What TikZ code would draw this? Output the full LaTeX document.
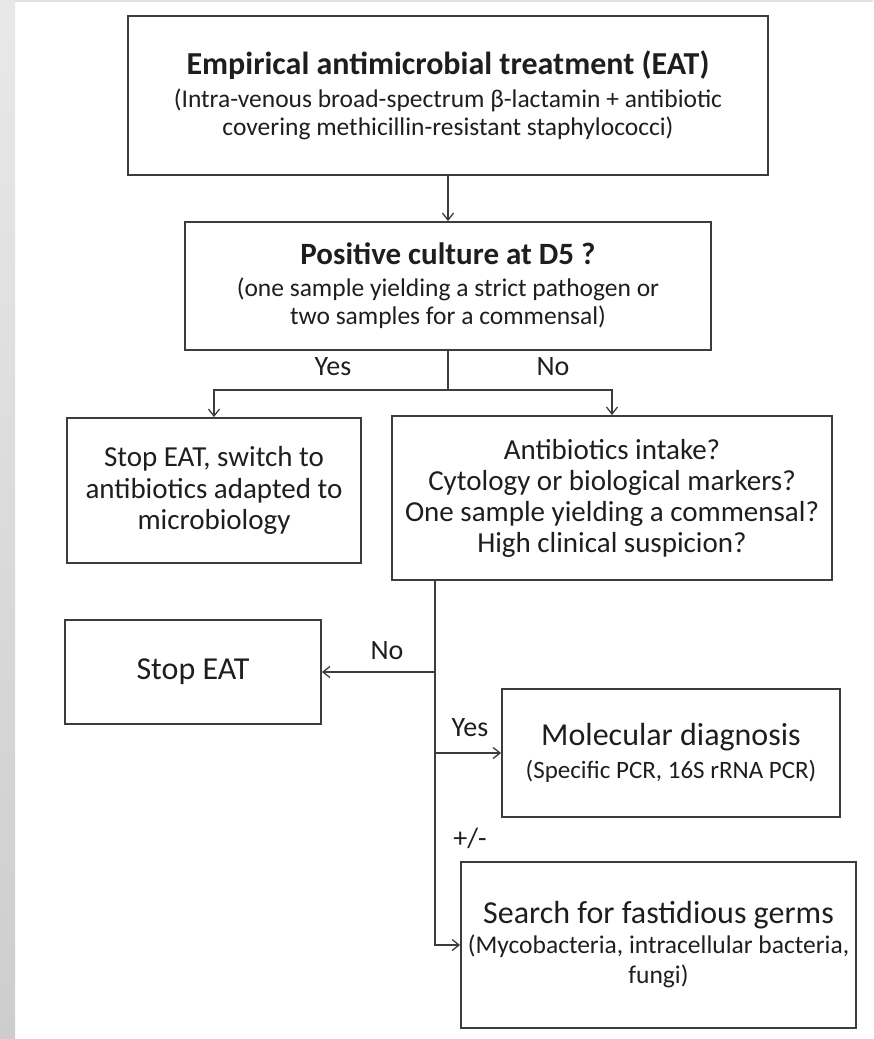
\documentclass[tikz,border=0pt]{standalone}
\usepackage{fontspec}
\setmainfont{Carlito}
\usepackage{tikz}
\usetikzlibrary{arrows.meta,positioning,calc}
\definecolor{boxline}{RGB}{60,60,60}
\definecolor{txtgray}{RGB}{30,30,30}
\definecolor{stripgray}{RGB}{205,205,205}
\newcommand{\fsize}[2]{\fontsize{#1}{#2}\selectfont}

\begin{document}
\begin{tikzpicture}[x=1pt,y=-1pt,
    box/.style={draw=boxline,line width=1.8pt,align=center,inner sep=0pt,text=txtgray},
    link/.style={draw=boxline,line width=1.3pt,-{Straight Barb[length=7pt,width=11pt]}},
    lbl/.style={text=txtgray,font=\fsize{28}{30}}]
  \useasboundingbox (0,0) rectangle (873,1039);
  % page edge
  \shade[top color=stripgray!45,bottom color=stripgray] (0,0) rectangle (15,1039);
  \draw[stripgray!60,line width=1.5pt] (15,1) -- (873,1);

  % boxes
  \node[box,minimum width=640pt,minimum height=159pt,font=\fsize{25.5}{28}] (eat) at (448,95.5)
    {{\bfseries\fsize{32}{33}Empirical antimicrobial treatment (EAT)}\\[5pt]
     (Intra-venous broad-spectrum β-lactamin + antibiotic\\
     covering methicillin-resistant staphylococci)};
  \node[box,minimum width=526pt,minimum height=128pt,font=\fsize{25.5}{28}] (pos) at (448,286)
    {{\bfseries\fsize{31}{33}Positive culture at D5 ?}\\[4pt]
     (one sample yielding a strict pathogen or\\
     two samples for a commensal)};
  \node[box,minimum width=294pt,minimum height=145pt,font=\fsize{29}{31.5}] (swi) at (214,490.5)
    {Stop EAT, switch to\\antibiotics adapted to\\microbiology};
  \node[box,minimum width=440pt,minimum height=164pt,font=\fsize{29}{31}] (qst) at (612,498)
    {Antibiotics intake?\\Cytology or biological markers?\\One sample yielding a commensal?\\High clinical suspicion?};
  \node[box,minimum width=256pt,minimum height=104pt,font=\fsize{32}{34}] (stp) at (193,672)
    {Stop EAT};
  \node[box,minimum width=338pt,minimum height=128pt,font=\fsize{25}{28}] (mol) at (671,753)
    {{\fsize{32}{34}Molecular diagnosis}\\[5pt]
     (Specific PCR, 16S rRNA PCR)};
  \node[box,minimum width=395pt,minimum height=166pt,font=\fsize{25.5}{30}] (fas) at (658.5,945)
    {{\fsize{32}{34}Search for fastidious germs}\\
     (Mycobacteria, intracellular bacteria,\\
     fungi)};

  % connectors
  \draw[link] (eat.south) -- (pos.north);
  \coordinate (split) at ($(pos.south)+(0,39)$);
  \draw[boxline,line width=1.3pt] (pos.south) -- (split);
  \draw[link] (split) -| (swi.north);
  \draw[link] (split) -| (qst.north);
  \node[lbl] (yes1) at (333,367) {Yes};
  \node[lbl] (no1) at (553,367) {No};

  \coordinate (trunk) at ($(qst.south west)+(44,0)$);
  \draw[link] (trunk) |- (fas.west);
  \draw[link] (trunk |- stp.east) -- (stp.east);
  \draw[link] (trunk |- mol.west) -- (mol.west);
  \node[lbl] (no2) at (387,651) {No};
  \node[lbl] (yes2) at (470,728) {Yes};
  \node[lbl] (pm) at (470,838) {+/-};
\end{tikzpicture}
\end{document}
